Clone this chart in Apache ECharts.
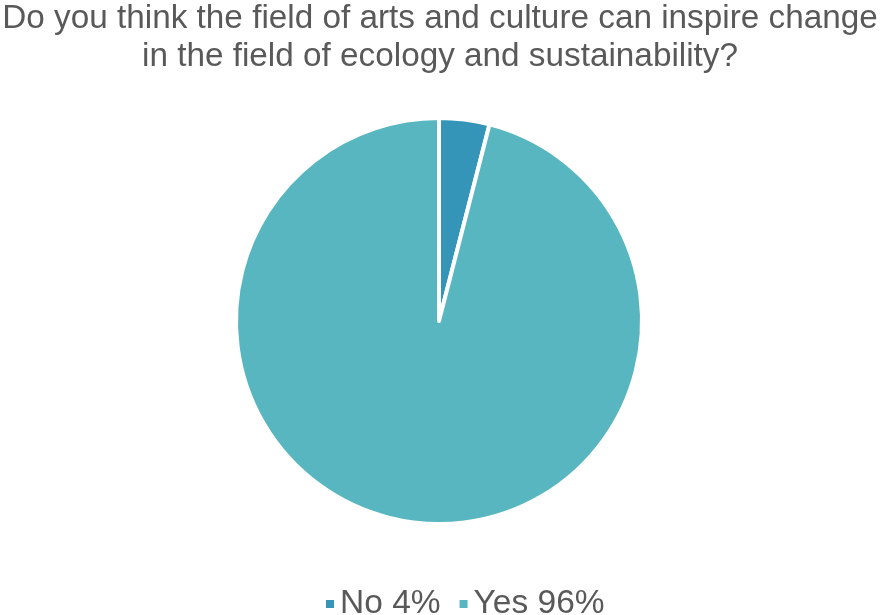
<!DOCTYPE html>
<html><head><meta charset="utf-8">
<script src="https://cdn.jsdelivr.net/npm/echarts@6/dist/echarts.min.js"></script>
<style>html,body{margin:0;padding:0;background:#fff}#c{width:880px;height:615px}</style>
</head><body><div id="c"></div>
<script>
const categories = ["No", "Yes"];
const values = [4, 96];
const colors = ["#3595B8", "#58B6C0"];
const titleText = "Do you think the field of arts and culture can inspire change\nin the field of ecology and sustainability?";

const chart = echarts.init(document.getElementById('c'));
chart.setOption({
  animation: false,
  title: {
    text: titleText, left: 'center', top: 0, padding: 0,
    textStyle: { fontFamily: 'Liberation Sans, Arial', fontSize: 33.3, fontWeight: 'normal', color: '#595959', lineHeight: 38 }
  },
  legend: {
    top: 587, left: 324, itemWidth: 10, itemHeight: 10, icon: 'rect', itemGap: 17, padding: 0,
    formatter: name => name + ' ' + values[categories.indexOf(name)] + '%',
    textStyle: { fontFamily: 'Liberation Sans, Arial', fontSize: 33.5, color: '#595959' }
  },
  series: [{
    type: 'pie', center: [439, 321], radius: [0, 203], startAngle: 90, clockwise: true,
    label: { show: false }, labelLine: { show: false },
    itemStyle: { borderColor: '#fff', borderWidth: 4 },
    data: categories.map((c, i) => ({ name: c, value: values[i], itemStyle: { color: colors[i] } }))
  }]
});
</script></body></html>
